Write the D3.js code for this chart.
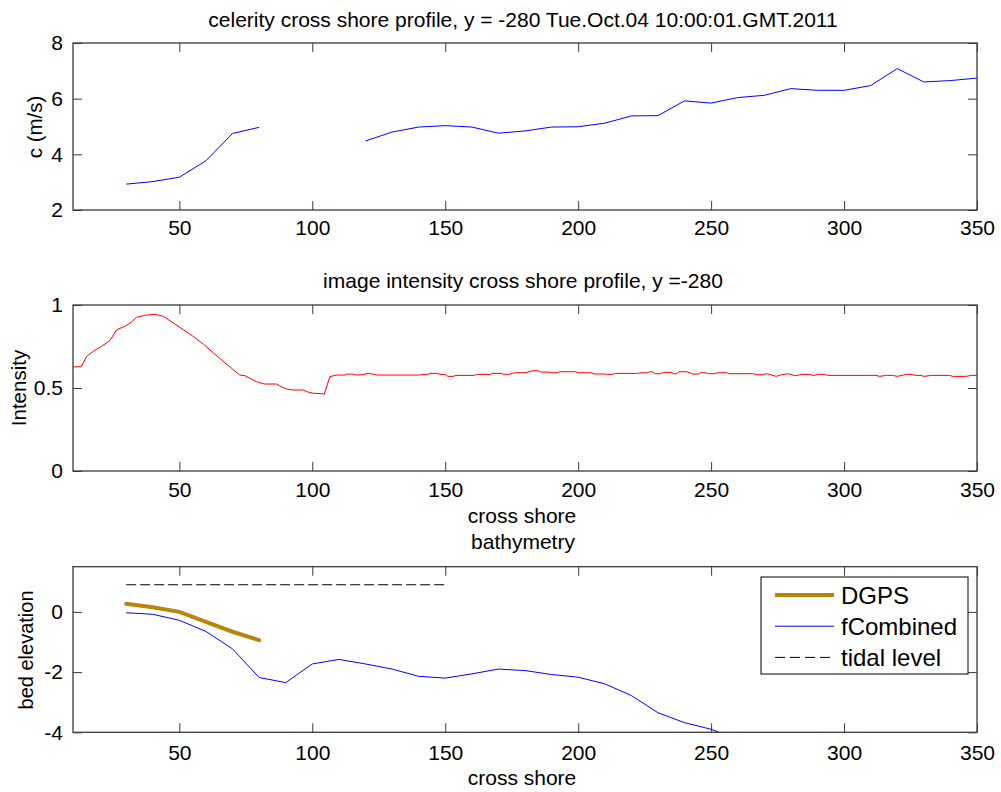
<!DOCTYPE html>
<html>
<head>
<meta charset="utf-8">
<script src="https://cdn.jsdelivr.net/npm/d3@7"></script>
<style>
  html, body { margin: 0; padding: 0; background: #fff; }
  svg { display: block; }
</style>
</head>
<body>
<script>
// ---- data ----------------------------------------------------------------
const crossShoreTicks = [50, 100, 150, 200, 250, 300, 350];

// wave celerity (m/s) along the cross-shore transect, gap where no estimate
const celerityX = [30, 40, 50, 60, 70, 80, 90, 100, 110, 120, 130, 140, 150, 160, 170, 180, 190, 200,
                   210, 220, 230, 240, 250, 260, 270, 280, 290, 300, 310, 320, 330, 340, 350];
const celerityC = [2.93, 3.02, 3.18, 3.77, 4.75, 4.97, null, null, null, 4.48, 4.80, 4.98, 5.03, 4.98,
                   4.76, 4.84, 4.98, 4.99, 5.12, 5.38, 5.39, 5.92, 5.84, 6.04, 6.12, 6.36, 6.30, 6.30,
                   6.47, 7.08, 6.60, 6.65, 6.74];
const celerityTicks = [2, 4, 6, 8];

// normalised image intensity profile
const intensityX = [10, 12.6, 13.3, 15.1, 17.6, 20.8, 23.9, 26.4, 29.5, 32, 33.9, 37.1, 40.8, 44, 47.7,
  51.5, 55.2, 59, 62.8, 66.5, 70.3, 72.8, 74.7, 76.6, 79, 82, 86.6, 87.8, 90.3, 92.8, 96.6, 97.9, 100.4,
  103.5, 104.5, 106.6, 109, 112.3, 113, 115.4, 116.7, 118.5, 121, 123.5, 124.5, 140.4, 141, 143.5, 144.2,
  147, 148, 150, 151, 153, 154, 161, 161.7, 167, 167.5, 171, 172, 174, 176, 180, 183, 185, 186, 189, 190,
  192, 193, 199, 200, 205, 206, 210, 211, 213, 214, 222, 224, 226, 227, 228, 229, 231, 232, 235, 236,
  237, 238, 240.7, 242, 243, 245, 246, 248, 249, 251, 252.6, 255.7, 257, 266, 267, 269.5, 270.8, 272,
  274.5, 276.4, 279, 281.4, 284.5, 287, 288.3, 290.8, 292.7, 294, 312, 313.3, 316, 318.3, 320, 323.4,
  325.2, 327, 329, 330, 333, 339.6, 341, 346, 347.8, 350];
const intensityY = [0.627, 0.628, 0.633, 0.69, 0.721, 0.751, 0.787, 0.851, 0.871, 0.898, 0.926, 0.938,
  0.944, 0.932, 0.892, 0.851, 0.811, 0.765, 0.711, 0.661, 0.61, 0.578, 0.574, 0.558, 0.538, 0.524, 0.524,
  0.512, 0.494, 0.488, 0.488, 0.478, 0.468, 0.466, 0.462, 0.568, 0.578, 0.578, 0.584, 0.584, 0.578, 0.58,
  0.588, 0.582, 0.578, 0.578, 0.582, 0.582, 0.588, 0.588, 0.582, 0.582, 0.57, 0.57, 0.576, 0.576, 0.582,
  0.582, 0.588, 0.588, 0.582, 0.582, 0.592, 0.592, 0.604, 0.604, 0.596, 0.596, 0.592, 0.592, 0.598,
  0.598, 0.592, 0.592, 0.584, 0.584, 0.582, 0.582, 0.588, 0.588, 0.592, 0.592, 0.598, 0.598, 0.586,
  0.586, 0.594, 0.594, 0.586, 0.586, 0.598, 0.598, 0.592, 0.584, 0.584, 0.592, 0.592, 0.586, 0.586,
  0.592, 0.592, 0.586, 0.586, 0.58, 0.58, 0.586, 0.582, 0.57, 0.58, 0.586, 0.574, 0.582, 0.582, 0.576,
  0.582, 0.582, 0.576, 0.576, 0.57, 0.576, 0.576, 0.57, 0.582, 0.582, 0.576, 0.576, 0.57, 0.576, 0.576,
  0.57, 0.57, 0.576, 0.576];
const intensityTicks = [0, 0.5, 1];

// bathymetry: surveyed (DGPS), inverted (fCombined) and tide level
const dgpsX = [30, 40, 50, 60, 70, 80];
const dgpsZ = [0.27, 0.15, 0.0, -0.33, -0.66, -0.94];
const combinedX = [30, 40, 50, 60, 70, 80, 90, 100, 110, 120, 130, 140, 150, 160, 170, 180, 190, 200,
                   210, 220, 230, 240, 250, 260];
const combinedZ = [-0.03, -0.08, -0.28, -0.65, -1.23, -2.18, -2.35, -1.73, -1.58, -1.73, -1.90, -2.14,
                   -2.20, -2.06, -1.90, -1.95, -2.08, -2.17, -2.39, -2.78, -3.35, -3.68, -3.90, -4.25];
const tideX = [30, 150];
const tideZ = [0.9, 0.9];
const elevationTicks = [-4, -2, 0];

const legendNames = ["DGPS", "fCombined", "tidal level"];

// ---- drawing -------------------------------------------------------------
const W = 1001, H = 792;
const FONT = '"Liberation Sans", Arial, Helvetica, sans-serif';
const AX = "#3a3a3a";
const left = 73, right = 977;

const svg = d3.select("body").append("svg")
  .attr("width", W).attr("height", H)
  .style("font-family", FONT);
svg.append("rect").attr("width", W).attr("height", H).attr("fill", "#fff");

const x = d3.scaleLinear().domain([10, 350]).range([left, right]);
const fmt = d => String(d);

function makePanel(id, top, bottom, yDomain, yTicks, xPad) {
  const y = d3.scaleLinear().domain(yDomain).range([bottom, top]);
  const g = svg.append("g");

  g.append("clipPath").attr("id", id)
    .append("rect").attr("x", left).attr("y", top)
    .attr("width", right - left).attr("height", bottom - top);

  const styleAxis = sel => {
    sel.select(".domain").remove();
    sel.selectAll(".tick line").attr("stroke", AX).attr("stroke-width", 1);
    sel.selectAll(".tick text").attr("fill", "#000")
      .style("font-family", FONT).style("font-size", "21px");
  };

  g.append("g").attr("transform", `translate(0,${bottom})`)
    .call(d3.axisBottom(x).tickValues(crossShoreTicks).tickFormat(fmt)
      .tickSizeInner(-9).tickSizeOuter(0).tickPadding(xPad))
    .call(styleAxis);
  g.append("g").attr("transform", `translate(0,${top})`)
    .call(d3.axisTop(x).tickValues(crossShoreTicks).tickFormat("")
      .tickSizeInner(-9).tickSizeOuter(0))
    .call(styleAxis);
  g.append("g").attr("transform", `translate(${left},0)`)
    .call(d3.axisLeft(y).tickValues(yTicks).tickFormat(fmt)
      .tickSizeInner(-9).tickSizeOuter(0).tickPadding(10))
    .call(styleAxis);
  g.append("g").attr("transform", `translate(${right},0)`)
    .call(d3.axisRight(y).tickValues(yTicks).tickFormat("")
      .tickSizeInner(-9).tickSizeOuter(0))
    .call(styleAxis);

  g.append("rect").attr("x", left).attr("y", top)
    .attr("width", right - left).attr("height", bottom - top)
    .attr("fill", "none").attr("stroke", AX).attr("stroke-width", 1.3);

  const plot = g.append("g").attr("clip-path", `url(#${id})`);
  return { y, g, plot };
}

function series(xs, ys) {
  return xs.map((v, i) => ({ x: v, y: ys[i] }));
}

function text(str, px, py, size, opts = {}) {
  const t = svg.append("text").text(str)
    .attr("x", px).attr("y", py)
    .attr("text-anchor", opts.anchor || "middle")
    .style("font-size", size + "px").attr("fill", "#000");
  if (opts.rotate) t.attr("transform", `rotate(-90,${px},${py})`);
  return t;
}

// celerity
const p1 = makePanel("clipCel", 43, 210, [2, 8], celerityTicks, 10);
p1.plot.append("path")
  .datum(series(celerityX, celerityC))
  .attr("fill", "none").attr("stroke", "#0000ff").attr("stroke-width", 1)
  .attr("d", d3.line().defined(d => d.y != null).x(d => x(d.x)).y(d => p1.y(d.y)));
text("celerity cross shore profile, y = -280 Tue.Oct.04 10:00:01.GMT.2011", 523, 27, 21);
text("c (m/s)", 42, 127, 20.5, { rotate: true });

// intensity
const p2 = makePanel("clipInt", 305, 471, [0, 1], intensityTicks, 11);
p2.plot.append("path")
  .datum(series(intensityX, intensityY))
  .attr("fill", "none").attr("stroke", "#ff0000").attr("stroke-width", 1)
  .attr("d", d3.line().x(d => x(d.x)).y(d => p2.y(d.y)));
text("image intensity cross shore profile, y =-280", 523, 288, 21);
text("Intensity", 25.5, 388, 20.5, { rotate: true });
text("cross shore", 522, 523, 21);

// bathymetry
const p3 = makePanel("clipBat", 566.7, 732.3, [-4, 1.5], elevationTicks, 12.5);
const line3 = d3.line().x(d => x(d.x)).y(d => p3.y(d.y));
p3.plot.append("path").datum(series(tideX, tideZ))
  .attr("fill", "none").attr("stroke", "#000").attr("stroke-width", 1)
  .attr("stroke-dasharray", "10,4").attr("d", line3);
p3.plot.append("path").datum(series(combinedX, combinedZ))
  .attr("fill", "none").attr("stroke", "#0000ff").attr("stroke-width", 1).attr("d", line3);
p3.plot.append("path").datum(series(dgpsX, dgpsZ))
  .attr("fill", "none").attr("stroke", "#b8860b").attr("stroke-width", 4)
  .attr("stroke-linecap", "round").attr("d", line3);
text("bathymetry", 523, 549, 21);
text("bed elevation", 33, 650, 20, { rotate: true });
text("cross shore", 522, 785, 21);

// legend
const legendStyles = [
  { stroke: "#b8860b", width: 4, dash: null },
  { stroke: "#0000ff", width: 1, dash: null },
  { stroke: "#000", width: 1, dash: "10,5" }
];
const lg = svg.append("g");
lg.append("rect").attr("x", 761).attr("y", 577).attr("width", 207).attr("height", 97)
  .attr("fill", "#fff").attr("stroke", "#000").attr("stroke-width", 1);
legendNames.forEach((name, i) => {
  const cy = 595 + i * 31.2;
  const s = legendStyles[i];
  lg.append("line").attr("x1", 775).attr("x2", 834).attr("y1", cy).attr("y2", cy)
    .attr("stroke", s.stroke).attr("stroke-width", s.width)
    .attr("stroke-dasharray", s.dash);
  lg.append("text").text(name).attr("x", 841).attr("y", cy + 8.5)
    .style("font-size", "24px").attr("fill", "#000");
});
</script>
</body>
</html>
